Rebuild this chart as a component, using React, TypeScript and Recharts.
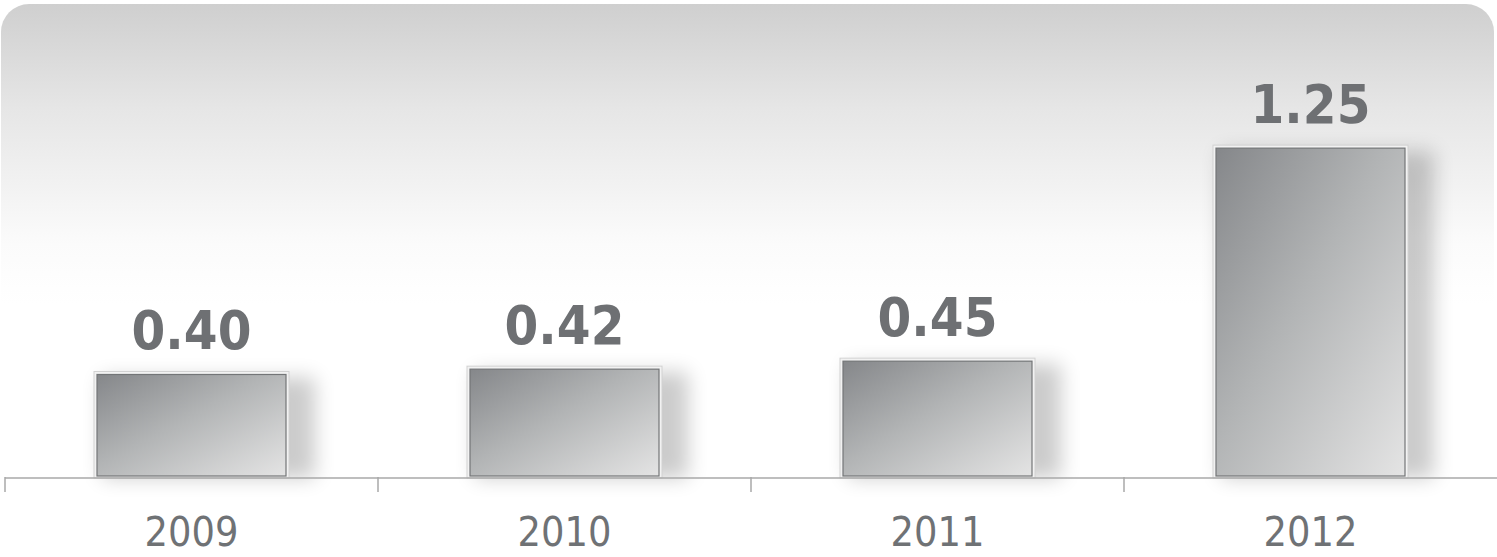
import { BarChart, Bar, XAxis, YAxis, LabelList } from 'recharts';

const years = ['2009', '2010', '2011', '2012'];
const values = [0.4, 0.42, 0.45, 1.25];

const data = years.map((year, i) => ({ year, value: values[i] }));

const W = 1497;
const H = 557;
const LEFT = 5;
const BAND = (W - LEFT) / years.length;

const GlassBar = (props: any) => {
    const { x, y, width, height } = props;
    if (!height || height <= 0) return null;
    return (
        <g>
            <rect x={x + 8} y={y + 6} width={width + 18} height={height - 6} fill="#000" opacity={0.2} filter="url(#barShadow)" />
            <rect x={x} y={y} width={width} height={height} fill="#f2f2f2" stroke="#d2d2d2" strokeWidth={1} />
            <rect x={x + 3} y={y + 3} width={width - 6} height={height - 5} fill="url(#barFill)" stroke="#737577" strokeWidth={1.2} />
        </g>
    );
};

const YearTick = (props: any) => {
    const { x, y, payload } = props;
    return (
        <g>
            <line x1={x - BAND / 2} x2={x - BAND / 2} y1={y - 9} y2={y + 6} stroke="#a9a9a9" strokeWidth={1.5} />
            <text x={x} y={y + 60} textAnchor="middle" fontFamily="'DejaVu Sans Condensed', 'DejaVu Sans'" fontSize={41} fill="#6f7275">
                {payload.value}
            </text>
        </g>
    );
};

const ValueLabel = (props: any) => {
    const { x, y, width, value } = props;
    return (
        <text x={x + width / 2} y={y - 22} textAnchor="middle" fontFamily="'DejaVu Sans Condensed', 'DejaVu Sans'" fontWeight="bold" fontSize={54} fill="#6e7073">
            {Number(value).toFixed(2)}
        </text>
    );
};

export default function App() {
    return (
        <div style={{ position: 'absolute', left: 0, top: 0, width: W, height: H, background: '#fff' }}>
            <div
                style={{
                    position: 'absolute',
                    left: 1,
                    top: 4,
                    width: 1493,
                    height: 300,
                    borderRadius: '28px 28px 0 0',
                    background: 'linear-gradient(#cfcfcf 0%, #e6e6e6 35%, #fbfbfb 80%, #ffffff 100%)',
                }}
            />
            <div style={{ position: 'absolute', left: 0, top: 0 }}>
                <BarChart width={W} height={H} data={data} margin={{ top: 4, right: 0, left: LEFT, bottom: 0 }} barCategoryGap={0}>
                    <defs>
                        <linearGradient id="barFill" x1="0" y1="0" x2="1" y2="1">
                            <stop offset="0%" stopColor="#85878a" />
                            <stop offset="45%" stopColor="#b2b4b5" />
                            <stop offset="100%" stopColor="#e4e4e4" />
                        </linearGradient>
                        <filter id="barShadow" x="-20%" y="-20%" width="140%" height="140%">
                            <feGaussianBlur stdDeviation="10" />
                        </filter>
                    </defs>
                    <YAxis hide domain={[0, 1.78]} />
                    <XAxis
                        dataKey="year"
                        height={79}
                        tickLine={false}
                        axisLine={{ stroke: '#a9a9a9', strokeWidth: 1.5 }}
                        tick={<YearTick />}
                        interval={0}
                    />
                    <Bar dataKey="value" barSize={195} shape={(p: any) => <GlassBar {...p} />} isAnimationActive={false}>
                        <LabelList dataKey="value" content={(p: any) => <ValueLabel {...p} />} />
                    </Bar>
                </BarChart>
            </div>
        </div>
    );
}
